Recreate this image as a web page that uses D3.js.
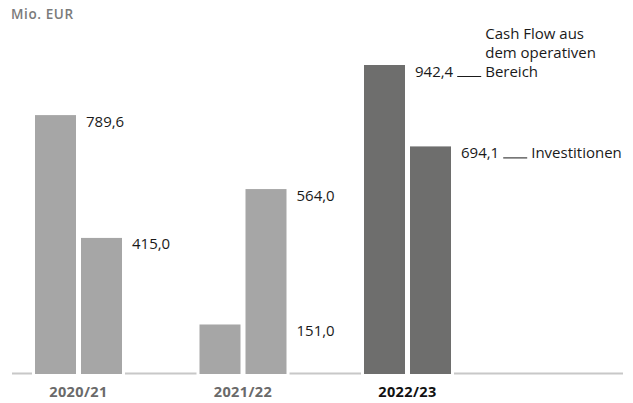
<!DOCTYPE html>
<html>
<head>
<meta charset="utf-8">
<script src="https://cdn.jsdelivr.net/npm/d3@7"></script>
<style>
  html, body { margin: 0; padding: 0; background: #fff; }
  svg text { font-family: "Open Sans", "Noto Sans", sans-serif; }
</style>
</head>
<body>
<svg id="chart" width="633" height="403"></svg>
<script>
// Fiscal years shown on the x axis
const years = ["2020/21", "2021/22", "2022/23"];
// Operating cash flow (Mio. EUR)
const cashFlow = [789.6, 151.0, 942.4];
// Investments (Mio. EUR)
const investments = [415.0, 564.0, 694.1];
// Series names used in the callout of the latest year
const seriesNames = [["Cash Flow aus", "dem operativen", "Bereich"], ["Investitionen"]];
const unitLabel = "Mio. EUR";

const svg = d3.select("#chart");
const baseY = 374;

const x = d3.scalePoint().domain(years).range([78.5, 407.5]);
const y = d3.scaleLinear().domain([0, 942.4]).range([baseY, 65]);

const barW = 41;
const fmt = v => d3.format(".1f")(v).replace(".", ",");
const latest = years.length - 1;

// unit label
svg.append("text")
  .attr("x", 11).attr("y", 19)
  .attr("font-size", 13.5).attr("font-weight", 600)
  .attr("letter-spacing", 0.6)
  .attr("fill", "#7a7a7a")
  .text(unitLabel);

// baseline
svg.append("line")
  .attr("x1", 12).attr("x2", 623)
  .attr("y1", baseY - 0.5).attr("y2", baseY - 0.5)
  .attr("stroke", "#c8c8c8").attr("stroke-width", 2);

const groups = years.map((yr, i) => ({
  year: yr, i,
  bars: [
    { v: cashFlow[i], x0: x(yr) - 43.5 },
    { v: investments[i], x0: x(yr) + 2.5 }
  ]
}));

groups.forEach(g => {
  const color = g.i === latest ? "#6e6e6d" : "#a6a6a6";
  // white gaps in the baseline around each pair of bars
  svg.append("rect")
    .attr("x", g.bars[0].x0 - 3).attr("y", baseY - 3)
    .attr("width", g.bars[1].x0 + barW - g.bars[0].x0 + 6).attr("height", 4)
    .attr("fill", "#fff");
  svg.selectAll(null).data(g.bars).enter().append("rect")
    .attr("x", d => d.x0)
    .attr("y", d => y(d.v))
    .attr("width", barW)
    .attr("height", d => baseY - y(d.v))
    .attr("fill", color);

  // value labels: each at the height of its bar, right of the taller neighbour when needed
  g.bars.forEach((b, k) => {
    let lx;
    if (k === 0 && b.v > g.bars[1].v) lx = b.x0 + barW + 10;
    else lx = g.bars[1].x0 + barW + 10;
    const t = svg.append("text")
      .attr("x", lx).attr("y", y(b.v) + 11.5)
      .attr("font-size", 15).attr("fill", "#1a1a1a")
      .text(fmt(b.v));
    if (g.i === latest) {
      const end = lx + t.node().getComputedTextLength();
      const lineEnd = end + 4 + 24;
      svg.append("line")
        .attr("x1", end + 4).attr("x2", lineEnd)
        .attr("y1", y(b.v) + 11.5).attr("y2", y(b.v) + 11.5)
        .attr("stroke", "#1a1a1a").attr("stroke-width", 1);
      const names = seriesNames[k];
      names.forEach((n, j) => {
        svg.append("text")
          .attr("x", lineEnd + 4)
          .attr("y", y(b.v) + 11.5 - (names.length - 1 - j) * 19)
          .attr("font-size", 15).attr("fill", "#1a1a1a")
          .text(n);
      });
    }
  });

  // category label
  svg.append("text")
    .attr("x", x(g.year)).attr("y", 397)
    .attr("text-anchor", "middle")
    .attr("font-size", 14.5).attr("font-weight", 700)
    .attr("letter-spacing", 0.4)
    .attr("fill", g.i === latest ? "#111" : "#6a6a6a")
    .text(g.year);
});
</script>
</body>
</html>
